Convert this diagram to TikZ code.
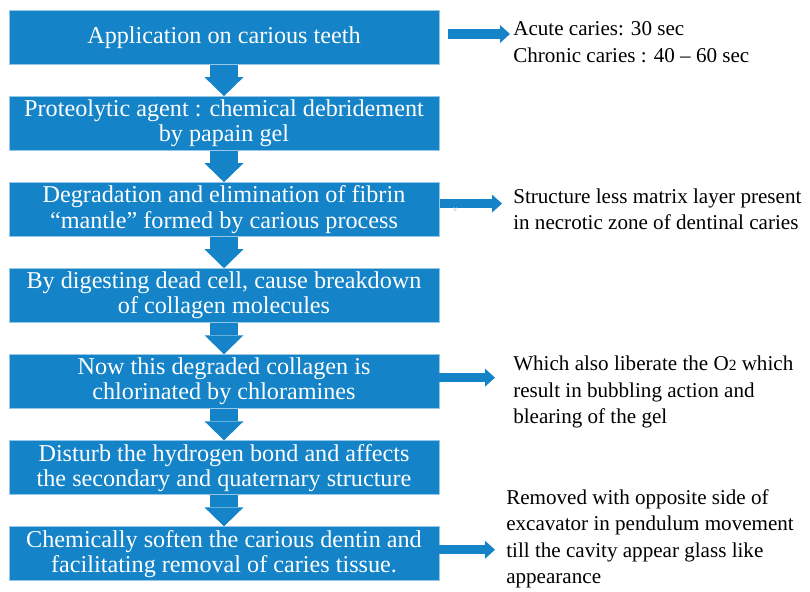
\documentclass[tikz,border=0pt]{standalone}
\usepackage{fontspec}
\setmainfont{Liberation Serif}
\usepackage{tikz}
\usetikzlibrary{positioning,arrows.meta,calc}
\definecolor{cazul}{HTML}{1483C8}
\tikzset{
  caja/.style={rectangle, draw=cazul!45!white, line width=0.6pt, fill=cazul,
    text=white, minimum width=10.75cm, minimum height=1.35cm, align=center,
    inner sep=0pt, font=\rmfamily\fontsize{17.2}{17.8}\selectfont},
  bajada/.style={-{Triangle[length=0.475cm 0 1, width=0.975cm 0 1, line width=0pt 0 0]},
    line width=0.7cm, draw=cazul},
  lateral/.style={-{Triangle[length=0.25cm 0 1, width=0.45cm 0 1, line width=0pt 0 0]},
    line width=0.23cm, draw=cazul},
  nota/.style={anchor=west, inner sep=0pt, align=left,
    font=\rmfamily\fontsize{15}{18.8}\selectfont},
}

\begin{document}
\begin{tikzpicture}[node distance=0.78cm]
  \useasboundingbox (0,0) rectangle (20.25,14.8);
  % pasos del proceso
  \node[caja] (b1) at (5.6,13.8625) {Application on carious teeth};
  \node[caja, below=of b1] (b2) {Proteolytic agent : chemical debridement\\by papain gel};
  \node[caja, below=of b2] (b3) {Degradation and elimination of fibrin\\``mantle'' formed by carious process};
  \node[caja, below=of b3] (b4) {By digesting dead cell, cause breakdown\\of collagen molecules};
  \node[caja, below=of b4] (b5) {Now this degraded collagen is\\chlorinated by chloramines};
  \node[caja, below=of b5] (b6) {Disturb the hydrogen bond and affects\\the secondary and quaternary structure};
  \node[caja, below=of b6] (b7) {Chemically soften the carious dentin and\\facilitating removal of caries tissue.};
  \foreach \a/\b in {b1/b2,b2/b3,b3/b4,b4/b5,b5/b6,b6/b7}
    \draw[bajada] (\a.south) -- (\b.north);

  % notas laterales
  \node[nota] (t1) at (12.825,13.75) {Acute caries: 30 sec\\Chronic caries : 40 -- 60 sec};
  \node[nota] (t2) at (12.825,9.5625) {Structure less matrix layer present\\in necrotic zone of dentinal caries};
  \node[nota] (t3) at (12.825,5.0) {Which also liberate the O{\fontsize{11}{11}\selectfont 2} which\\result in bubbling action and\\blearing of the gel};
  \node[nota] (t4) at (12.65,1.325) {Removed with opposite side of\\excavator in pendulum movement\\till the cavity appear glass like\\appearance};

  \draw[lateral] ($(b1.east)+(0.225,0.0875)$) -- ($(b1.east -| t1.west)+(-0.075,0.0875)$);
  \draw[lateral] ($(b3.east)+(0.025,0.15)$) -- ($(b3.east -| t2.west)+(-0.275,0.15)$)
    node[pos=0.24, below=-0.12cm, font=\fontsize{6}{6}\selectfont, text=white!55!cazul] {v};
  \draw[lateral] ($(b5.east)+(-0.15,0.1)$) -- ($(b5.east -| t3.west)+(-0.45,0.1)$);
  \draw[lateral] ($(b7.east)+(-0.15,0.1)$) -- ($(b7.east -| t4.west)+(-0.275,0.1)$);
\end{tikzpicture}
\end{document}
